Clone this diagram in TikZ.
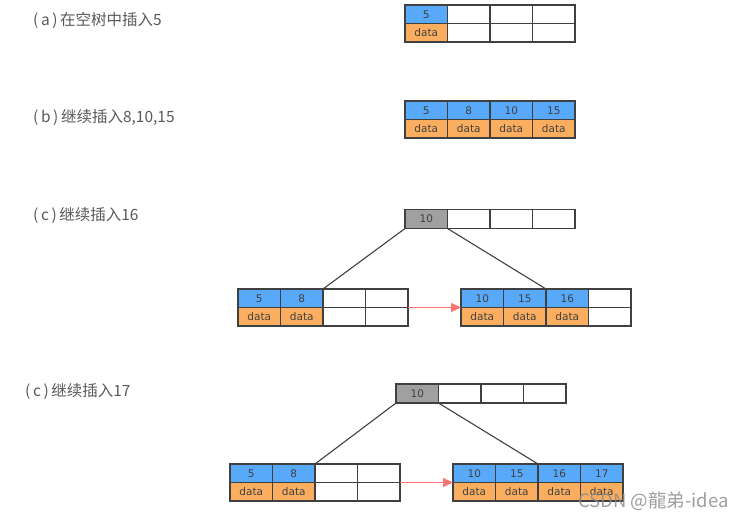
\documentclass[tikz,border=0pt]{standalone}
\usepackage{fontspec}
\setmainfont{DejaVu Sans}
\newfontfamily\cjkfont{Noto Sans CJK SC}
\usetikzlibrary{arrows.meta}

\definecolor{keyblue}{HTML}{58A9FA}
\definecolor{dataorange}{HTML}{FBAE5F}
\definecolor{rootgray}{HTML}{A0A0A0}
\definecolor{linkred}{HTML}{FF7373}
\definecolor{edgegray}{HTML}{404040}

\tikzset{
	cell/.style={rectangle, draw=edgegray, line width=1.2pt, inner sep=0pt, outer sep=0pt,
		minimum width=42.5pt, minimum height=18.5pt, font=\fontsize{10.5}{11}\selectfont, text=black!75},
	keycell/.style={cell, fill=keyblue},
	datacell/.style={cell, fill=dataorange},
	rootcell/.style={cell, fill=rootgray, minimum height=19pt},
	emptycell/.style={cell, fill=white},
	steplabel/.style={anchor=west, inner sep=0pt, font=\cjkfont\fontsize{15.5}{16}\selectfont, text=black!65},
	treeline/.style={draw=edgegray, line width=1.1pt},
	nextleaf/.style={-{Triangle[length=10pt,width=9pt]}, draw=linkred, line width=1pt}
}

\begin{document}
\begin{tikzpicture}[x=1pt,y=-1pt]

	\useasboundingbox (0,0) rectangle (746,520);

	% (a)
	\node 	(la)	at	(33,20) 	[steplabel]{(\,a\,)\,在空树中插入5};

	\node 	(a1)	at	(426.25,14.25) 	[keycell]{5};
	\node 	(a2)	at	(468.75,14.25) 	[emptycell]{};
	\node 	(a3)	at	(511.25,14.25) 	[emptycell]{};
	\node 	(a4)	at	(553.75,14.25) 	[emptycell]{};
	\node 	(a1d)	at	(426.25,32.75) 	[datacell]{data};
	\node 	(a2d)	at	(468.75,32.75) 	[emptycell]{};
	\node 	(a3d)	at	(511.25,32.75) 	[emptycell]{};
	\node 	(a4d)	at	(553.75,32.75) 	[emptycell]{};

	% (b)
	\node 	(lb)	at	(33,117) 	[steplabel]{(\,b\,)\,继续插入8,10,15};

	\node 	(b1)	at	(426.25,110.25) 	[keycell]{5};
	\node 	(b2)	at	(468.75,110.25) 	[keycell]{8};
	\node 	(b3)	at	(511.25,110.25) 	[keycell]{10};
	\node 	(b4)	at	(553.75,110.25) 	[keycell]{15};
	\node 	(b1d)	at	(426.25,128.75) 	[datacell]{data};
	\node 	(b2d)	at	(468.75,128.75) 	[datacell]{data};
	\node 	(b3d)	at	(511.25,128.75) 	[datacell]{data};
	\node 	(b4d)	at	(553.75,128.75) 	[datacell]{data};

	% (c) insert 16
	\node 	(lc)	at	(33,215) 	[steplabel]{(\,c\,)\,继续插入16};

	\node 	(c1)	at	(426.25,219) 	[rootcell]{10};
	\node 	(c2)	at	(468.75,219) 	[emptycell, minimum height=19pt]{};
	\node 	(c3)	at	(511.25,219) 	[emptycell, minimum height=19pt]{};
	\node 	(c4)	at	(553.75,219) 	[emptycell, minimum height=19pt]{};

	\node 	(cl1)	at	(259.25,298.25) 	[keycell]{5};
	\node 	(cl2)	at	(301.75,298.25) 	[keycell]{8};
	\node 	(cl3)	at	(344.25,298.25) 	[emptycell]{};
	\node 	(cl4)	at	(386.75,298.25) 	[emptycell]{};
	\node 	(cl1d)	at	(259.25,316.75) 	[datacell]{data};
	\node 	(cl2d)	at	(301.75,316.75) 	[datacell]{data};
	\node 	(cl3d)	at	(344.25,316.75) 	[emptycell]{};
	\node 	(cl4d)	at	(386.75,316.75) 	[emptycell]{};

	\node 	(cr1)	at	(482.25,298.25) 	[keycell]{10};
	\node 	(cr2)	at	(524.75,298.25) 	[keycell]{15};
	\node 	(cr3)	at	(567.25,298.25) 	[keycell]{16};
	\node 	(cr4)	at	(609.75,298.25) 	[emptycell]{};
	\node 	(cr1d)	at	(482.25,316.75) 	[datacell]{data};
	\node 	(cr2d)	at	(524.75,316.75) 	[datacell]{data};
	\node 	(cr3d)	at	(567.25,316.75) 	[datacell]{data};
	\node 	(cr4d)	at	(609.75,316.75) 	[emptycell]{};

	\draw[treeline]	(c1.south west)	--	(cl3.north west);
	\draw[treeline]	(c1.south east)	--	(cr3.north west);
	\draw[nextleaf]	(cl4.south east)	--	(cr1.south west);

	% (c) insert 17
	\node 	(ld)	at	(25,391) 	[steplabel]{(\,c\,)\,继续插入17};

	\node 	(d1)	at	(417.25,393.5) 	[rootcell]{10};
	\node 	(d2)	at	(459.75,393.5) 	[emptycell, minimum height=19pt]{};
	\node 	(d3)	at	(502.25,393.5) 	[emptycell, minimum height=19pt]{};
	\node 	(d4)	at	(544.75,393.5) 	[emptycell, minimum height=19pt]{};

	\node 	(dl1)	at	(251.25,473.25) 	[keycell]{5};
	\node 	(dl2)	at	(293.75,473.25) 	[keycell]{8};
	\node 	(dl3)	at	(336.25,473.25) 	[emptycell]{};
	\node 	(dl4)	at	(378.75,473.25) 	[emptycell]{};
	\node 	(dl1d)	at	(251.25,491.75) 	[datacell]{data};
	\node 	(dl2d)	at	(293.75,491.75) 	[datacell]{data};
	\node 	(dl3d)	at	(336.25,491.75) 	[emptycell]{};
	\node 	(dl4d)	at	(378.75,491.75) 	[emptycell]{};

	\node 	(dr1)	at	(474.25,473.25) 	[keycell]{10};
	\node 	(dr2)	at	(516.75,473.25) 	[keycell]{15};
	\node 	(dr3)	at	(559.25,473.25) 	[keycell]{16};
	\node 	(dr4)	at	(601.75,473.25) 	[keycell]{17};
	\node 	(dr1d)	at	(474.25,491.75) 	[datacell]{data};
	\node 	(dr2d)	at	(516.75,491.75) 	[datacell]{data};
	\node 	(dr3d)	at	(559.25,491.75) 	[datacell]{data};
	\node 	(dr4d)	at	(601.75,491.75) 	[datacell]{data};

	\draw[treeline]	(d1.south west)	--	(dl3.north west);
	\draw[treeline]	(d1.south east)	--	(dr3.north west);
	\draw[nextleaf]	(dl4.south east)	--	(dr1.south west);

	% watermark
	\node 	(wm)	at	(578,501) 	[anchor=west, inner sep=0pt, font=\cjkfont\fontsize{18.5}{19}\selectfont, text=black!45, opacity=0.85]{CSDN @龍弟-idea};

\end{tikzpicture}
\end{document}
